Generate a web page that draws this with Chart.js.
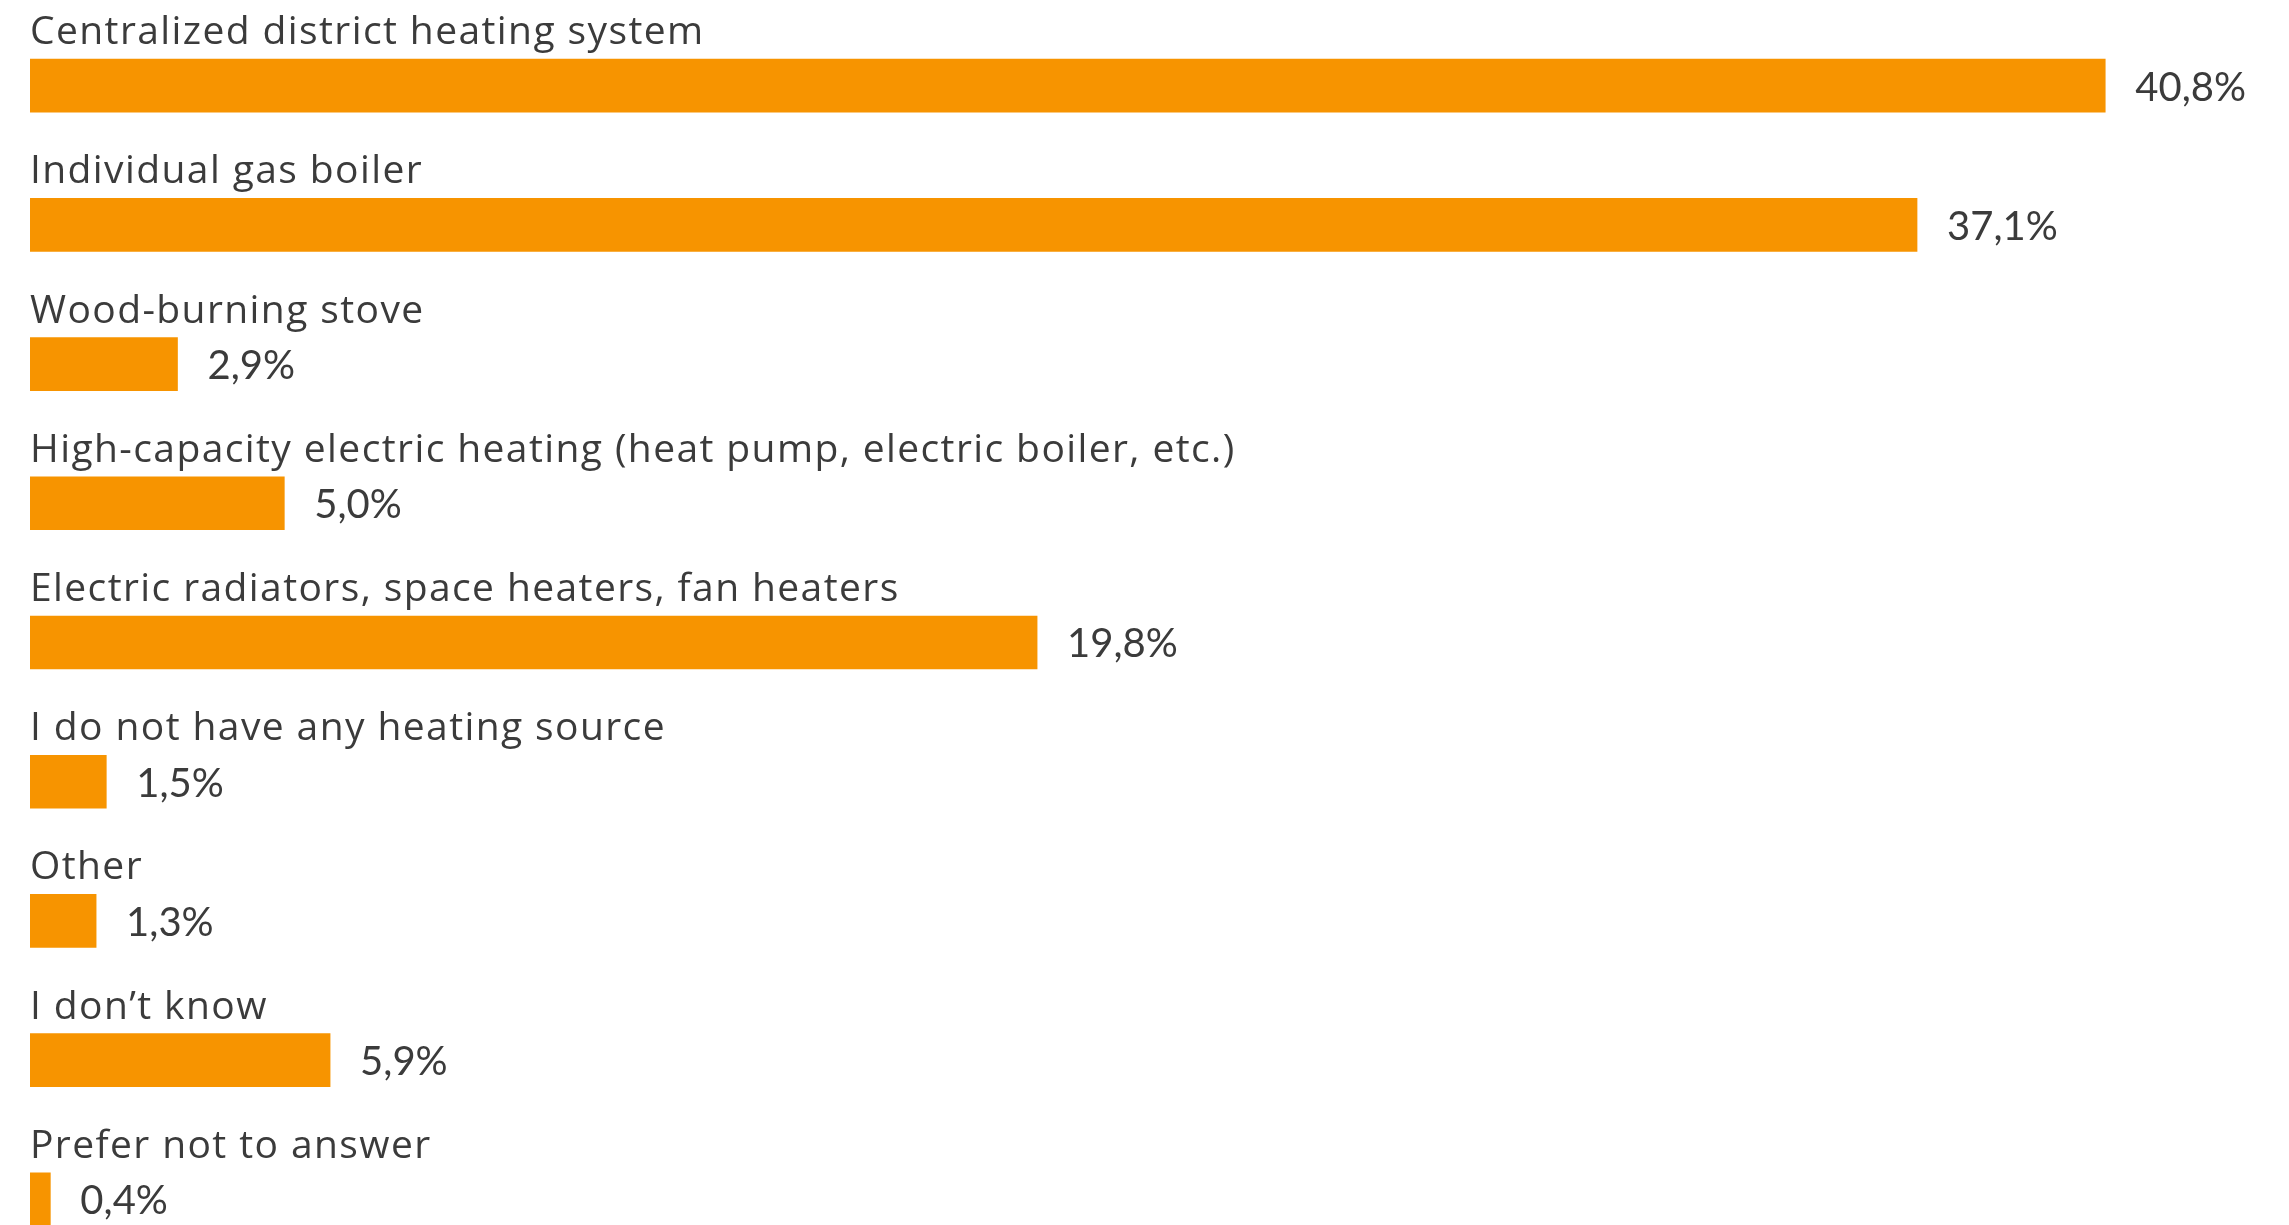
<!DOCTYPE html>
<html>
<head>
<meta charset="utf-8">
<title>Heating sources</title>
<script src="https://cdn.jsdelivr.net/npm/chart.js"></script>
<style>
  html, body { margin: 0; padding: 0; background: #fff; overflow: hidden; }
  .wrap { width: 2289px; height: 1270px; }
</style>
</head>
<body>
<div class="wrap"><canvas id="heating"></canvas></div>
<script>
// survey answers, share of respondents in %
const categories = [
  'Centralized district heating system',
  'Individual gas boiler',
  'Wood-burning stove',
  'High-capacity electric heating (heat pump, electric boiler, etc.)',
  'Electric radiators, space heaters, fan heaters',
  'I do not have any heating source',
  'Other',
  'I don\u2019t know',
  'Prefer not to answer'
];
const shares = [40.8, 37.1, 2.9, 5.0, 19.8, 1.5, 1.3, 5.9, 0.4];

const BAR_COLOR = '#F79400';
const TEXT_COLOR = '#3b3b3b';
const LABEL_FONT = '39px "Open Sans", sans-serif';
const VALUE_FONT = '40px Lato, sans-serif';

const fmt = v => v.toFixed(1).replace('.', ',') + '%';

// category name above each bar, value to the right of it
const barText = {
  id: 'barText',
  afterDatasetsDraw(chart) {
    const ctx = chart.ctx;
    const meta = chart.getDatasetMeta(0);
    ctx.save();
    ctx.fillStyle = TEXT_COLOR;
    meta.data.forEach((bar, i) => {
      const top = bar.y - bar.height / 2;
      ctx.textAlign = 'left';
      ctx.textBaseline = 'alphabetic';
      ctx.font = LABEL_FONT;
      ctx.letterSpacing = '1.4px';
      ctx.fillText(categories[i], bar.base, top - 15);
      ctx.textBaseline = 'middle';
      ctx.font = VALUE_FONT;
      ctx.letterSpacing = '0px';
      ctx.fillText(fmt(shares[i]), bar.x + 30, bar.y + 2);
    });
    ctx.restore();
  }
};

new Chart(document.getElementById('heating'), {
  type: 'bar',
  data: {
    labels: categories,
    datasets: [{
      data: shares,
      backgroundColor: BAR_COLOR,
      borderWidth: 0,
      barThickness: 53
    }]
  },
  options: {
    indexAxis: 'y',
    responsive: true,
    maintainAspectRatio: false,
    animation: false,
    layout: { padding: { left: 30, right: 21, top: 16, bottom: 1 } },
    plugins: { legend: { display: false }, tooltip: { enabled: false } },
    scales: {
      x: { display: false, min: 0, max: 44 },
      y: { display: false }
    }
  },
  plugins: [barText]
});
</script>
</body>
</html>
